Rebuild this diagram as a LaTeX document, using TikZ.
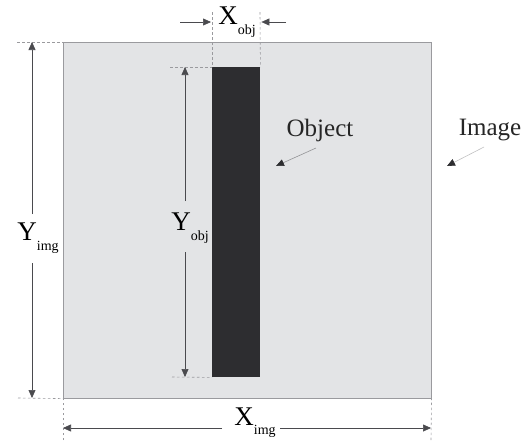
\documentclass[tikz,border=0pt]{standalone}
\usepackage{fontspec}
\setmainfont{Liberation Serif}
\usetikzlibrary{arrows.meta}
\definecolor{imgfill}{HTML}{E3E4E6}
\definecolor{objfill}{HTML}{2D2D30}
\definecolor{lineclr}{HTML}{4A4A4E}
\definecolor{guideclr}{HTML}{9A9A9E}
\newcommand{\lbl}[2]{#1\raisebox{-0.35em}{\fontsize{14}{14}\selectfont #2}}
\begin{document}
\begin{tikzpicture}[x=1pt,y=-1pt,
  dim/.style={draw=lineclr,line width=0.6pt,-{Triangle[length=8pt,width=7pt]}},
  pointer/.style={line width=0.6pt,-{Triangle[length=8pt,width=7pt,color=objfill]}},
  guide/.style={draw=guideclr,line width=0.6pt,dash pattern=on 2.5pt off 2.5pt},
  lab/.style={font=\fontsize{27}{29}\selectfont,inner sep=1pt},
  txt/.style={font=\fontsize{25}{27}\selectfont,inner sep=0pt,text=black!85}]
\useasboundingbox (0,0) rectangle (523,440);
% image and object
\node[draw=guideclr,fill=imgfill,line width=0.6pt,minimum width=368pt,minimum height=356pt,inner sep=0pt,anchor=north west] (img) at (63,42) {};
\node[fill=objfill,minimum width=48pt,minimum height=310pt,inner sep=0pt,anchor=north west] (obj) at (212,67) {};
% guides
\coordinate (gYit) at (17,42);  \coordinate (gYib) at (18,398);
\coordinate (gYot) at (170,67); \coordinate (gYob) at (172,377);
\coordinate (gXol) at (212,12); \coordinate (gXor) at (260,12);
\coordinate (gXil) at (63,440); \coordinate (gXir) at (431,440);
\draw[guide] (gYit) -- (img.north west);
\draw[guide] (gYib) -- (img.south west);
\draw[guide] (gYot) -- (obj.north west);
\draw[guide] (gYob) -- (obj.south west);
\draw[guide] (gXol) -- (obj.north west);
\draw[guide] (gXor) -- (obj.north east);
\draw[guide] (gXil) -- ([yshift=6pt]img.south west);
\draw[guide] (gXir) -- ([yshift=6pt]img.south east);
% Y_img
\coordinate (yit) at (32,42); \coordinate (yib) at (32,398);
\node[lab] (Yimg) at (38,238) {\lbl{Y}{img}};
\draw[dim] (32,214) coordinate (yia) -- (yit);
\draw[dim] (32,263) coordinate (yib2) -- (yib);
% Y_obj
\coordinate (yot) at (185,67); \coordinate (yob) at (185,377);
\node[lab] (Yobj) at (190,228) {\lbl{Y}{obj}};
\draw[dim] (185,201) coordinate (yoa) -- (yot);
\draw[dim] (185,252) coordinate (yob2) -- (yob);
% X_obj
\node[lab] (Xobj) at (237,22) {\lbl{X}{obj}};
\coordinate (xol) at (180,22); \coordinate (xor) at (286,22);
\draw[dim] (xol) -- ([xshift=-1pt]obj.west |- xol);
\draw[dim] (xor) -- ([xshift=1pt]obj.east |- xor);
% X_img
\node[lab,anchor=south] (Ximg) at (255,439) {\lbl{X}{img}};
\coordinate (xil) at (63,428); \coordinate (xir) at (431,428);
\draw[dim] (222,428) -- (xil);
\draw[dim] (280,428) -- (xir);
% labels
\node[txt] (objlbl) at (320,130) {Object};
\node[txt] (imglbl) at (490,130) {Image};
\coordinate (objtip) at (276,166);
\coordinate (imgtip) at (447,166);
\draw[pointer,draw=lineclr!60] (316,148) -- (objtip);
\draw[pointer,draw=lineclr!35] (484,147) -- (imgtip);
\end{tikzpicture}
\end{document}
